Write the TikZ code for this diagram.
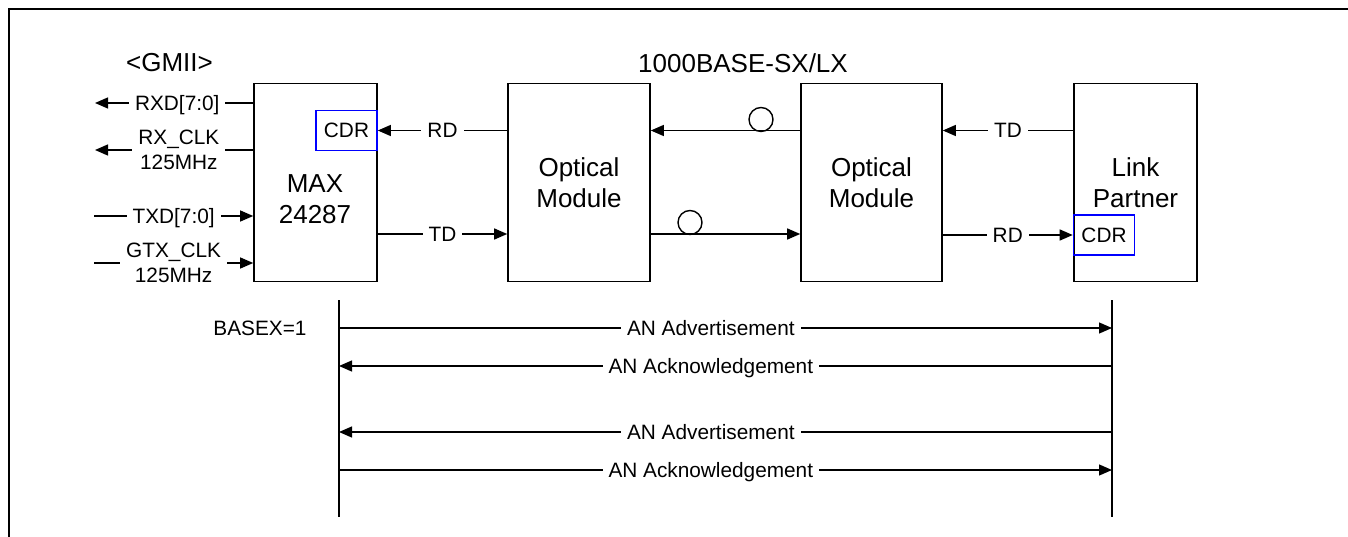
\documentclass[tikz,border=0pt]{standalone}
\usepackage{fontspec}
\setmainfont{Liberation Sans}
\usetikzlibrary{arrows.meta}

\begin{document}
\begin{tikzpicture}[x=1pt, y=-1pt,
    block/.style={draw, line width=1.6pt, minimum width=#1, minimum height=198pt, inner sep=0pt},
    cdrbox/.style={draw=blue, line width=1.6pt, minimum width=61pt, minimum height=40pt, inner sep=0pt,
        font=\fontsize{20.8}{25}\selectfont},
    bigtxt/.style={align=center, font=\fontsize{26}{30.5}\selectfont},
    lbl/.style={align=center, fill=white, inner xsep=6pt, inner ysep=0pt,
        font=\fontsize{20.8}{25}\selectfont, text height=19pt, text depth=4pt},
    lbltwo/.style={align=center, fill=white, inner xsep=6pt, inner ysep=0pt,
        font=\fontsize{20.8}{25}\selectfont},
    conn/.style={line width=1.3pt},
    arr/.style={conn, -{Triangle[length=13pt, width=11pt]}},
    fiber/.style={circle, draw, line width=1.4pt, minimum size=24pt, inner sep=0pt}]
    \useasboundingbox (0,0) rectangle (1348,537);

    % Frame
    \draw[line width=2pt] (9,537) -- (9,9) -- (1348,9);

    % Blocks
    \node[block=123pt] (max) at (315.5,182.5) {};
    \node[bigtxt] (maxtxt) at (315,199) {MAX\\24287};
    \node[block=142pt, bigtxt] (opt1) at (579,182.5) {Optical\\Module};
    \node[block=141pt, bigtxt] (opt2) at (871.5,182.5) {Optical\\Module};
    \node[block=123pt, bigtxt] (lp) at (1135.5,182.5) {Link\\Partner};
    \node[cdrbox] (cdr1) at (346.5,130.5) {CDR};
    \node[cdrbox] (cdr2) at (1104,235) {CDR};

    % Titles
    \node[bigtxt] (gmii) at (169.5,63) {<GMII>};
    \node[bigtxt] (base) at (743,63) {1000BASE-SX/LX};

    % GMII side
    \coordinate (rxd) at (95,103);
    \coordinate (rxclk) at (95,150);
    \coordinate (txd) at (94,216);
    \coordinate (gtxclk) at (94,263);
    \draw[arr] (max.west |- rxd) -- (rxd) node[lbl, pos=0.48] (rxdl) {RXD[7:0]};
    \draw[arr] (max.west |- rxclk) -- (rxclk) node[lbltwo, pos=0.47] (rxclkl) {RX\_CLK\\125MHz};
    \draw[arr] (txd) -- (max.west |- txd) node[lbl, pos=0.5] (txdl) {TXD[7:0]};
    \draw[arr] (gtxclk) -- (max.west |- gtxclk) node[lbltwo, pos=0.5] (gtxclkl) {GTX\_CLK\\125MHz};

    % Serial side
    \draw[arr] (opt1.west |- cdr1) -- (cdr1.east) node[lbl, midway] (rd1) {RD};
    \draw[arr] (max.east |- 0,234) -- (opt1.west |- 0,234) node[lbl, midway] (td1) {TD};
    \draw[arr] (opt2.west |- cdr1) -- (opt1.east |- cdr1);
    \draw[arr] (opt1.east |- 0,234) -- (opt2.west |- 0,234);
    \node[fiber] (f1) at (761,119.5) {};
    \node[fiber] (f2) at (690,222.5) {};
    \draw[arr] (lp.west |- cdr1) -- (opt2.east |- cdr1) node[lbl, midway] (td2) {TD};
    \draw[arr] (opt2.east |- cdr2) -- (cdr2.west) node[lbl, midway] (rd2) {RD};

    % Auto-negotiation
    \coordinate (lt) at (339,300);
    \coordinate (lb) at (339,517);
    \coordinate (rt) at (1112,300);
    \coordinate (rb) at (1112,517);
    \draw[conn] (lt) -- (lb);
    \draw[conn] (rt) -- (rb);
    \node[lbl] (basex) at (260,328) {BASEX=1};
    \draw[arr] (lt |- 0,328) -- (rt |- 0,328) node[lbl, pos=0.481] (adv1) {AN Advertisement};
    \draw[arr] (rt |- 0,366) -- (lt |- 0,366) node[lbl, pos=0.519] (ack1) {AN Acknowledgement};
    \draw[arr] (rt |- 0,432) -- (lt |- 0,432) node[lbl, pos=0.519] (adv2) {AN Advertisement};
    \draw[arr] (lt |- 0,470) -- (rt |- 0,470) node[lbl, pos=0.481] (ack2) {AN Acknowledgement};
\end{tikzpicture}
\end{document}
